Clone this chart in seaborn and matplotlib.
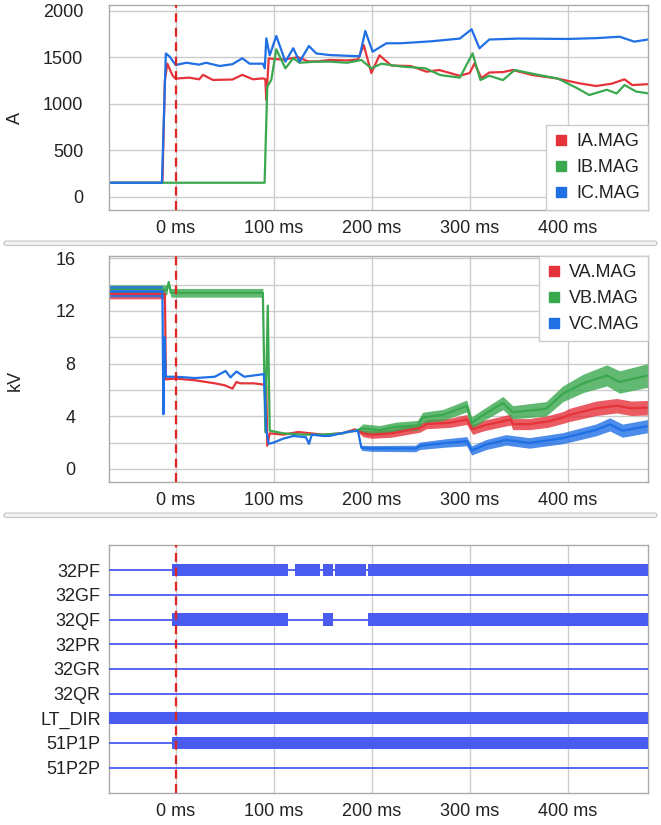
import matplotlib
matplotlib.use("Agg")
import matplotlib.pyplot as plt
import numpy as np
import seaborn as sns
from matplotlib.lines import Line2D
from matplotlib.patches import FancyBboxPatch

RED = "#e5333b"
GREEN = "#3aa84f"
BLUE = "#1f6fe5"
DIG = "#4a5cf0"
GRID = "#cccccc"

ms_ticks = [0, 100, 200, 300, 400]

# Currents (A)
ia_t = [-68, -13.5, -11, -8.5, -3, 0, 14, 24, 28, 38, 58, 68, 79, 89, 91.5, 92.5, 95, 100, 110, 125,
        135, 145, 157, 175, 186, 192, 199.7, 208, 220, 240, 256, 269, 290, 300, 305, 312, 320, 334,
        344, 364, 388, 412, 429, 445, 458, 466, 482]
ia_v = [150, 150, 1250, 1430, 1300, 1270, 1280, 1262, 1310, 1255, 1260, 1310, 1262, 1272, 1265, 1040,
        1488, 1480, 1475, 1500, 1455, 1455, 1470, 1465, 1475, 1630, 1330, 1520, 1410, 1405, 1344, 1362,
        1300, 1330, 1434, 1275, 1335, 1340, 1362, 1308, 1273, 1219, 1190, 1215, 1262, 1200, 1210]
ib_t = [-68, 90.8, 93.5, 97.6, 102.7, 112, 120, 126.5, 140, 157, 175, 189.5, 199.7, 210, 230, 255,
        270, 290, 303, 311, 320, 334, 346, 370, 390, 410, 422, 440, 450, 458, 470, 482]
ib_v = [150, 150, 1183, 1255, 1585, 1380, 1488, 1440, 1450, 1452, 1440, 1470, 1380, 1430, 1400, 1380,
        1308, 1280, 1541, 1254, 1300, 1254, 1362, 1310, 1270, 1165, 1093, 1150, 1110, 1201, 1130, 1111]
ic_t = [-68, -14, -10, -6, 0, 11, 24, 31, 45, 58, 68, 75.5, 89, 91, 92.5, 96, 102.7, 112, 120, 126.5,
        136, 143.5, 157, 175, 187.8, 193.5, 201, 215, 230, 260, 290, 302, 310, 320, 350, 400, 430, 453,
        468, 482]
ic_v = [150, 150, 1540, 1505, 1416, 1440, 1420, 1440, 1405, 1425, 1488, 1430, 1430, 1380, 1703, 1520,
        1728, 1452, 1596, 1452, 1620, 1540, 1523, 1515, 1510, 1782, 1559, 1649, 1650, 1670, 1700, 1800,
        1595, 1690, 1700, 1696, 1705, 1720, 1667, 1690]

# Voltages (kV): value and ripple half-width
va_t = [-68, -11, -10.5, -10, 0, 20, 40, 50, 58, 62, 66, 80, 90, 92.5, 93.5, 96, 110, 125, 150, 170,
        183, 191, 200, 220, 249, 256, 280, 297, 303, 315, 327, 342, 344, 361, 380, 395, 402, 429, 450,
        465, 482]
va_v = [13.3, 13.3, 10.6, 6.8, 6.86, 6.73, 6.5, 6.35, 6.1, 6.6, 6.5, 6.5, 6.4, 6.3, 1.75, 2.7, 2.6,
        2.8, 2.6, 2.7, 3.0, 2.7, 2.6, 2.7, 3.1, 3.4, 3.5, 3.75, 3.0, 3.3, 3.5, 3.75, 3.4, 3.4, 3.6, 3.9,
        4.1, 4.6, 4.8, 4.6, 4.65]
va_r = [0.38, 0.38, 0, 0, 0, 0, 0, 0, 0, 0, 0, 0, 0, 0, 0, 0, 0, 0, 0, 0, 0, 0.25, 0.28, 0.3, 0.32,
        0.35, 0.35, 0.38, 0.38, 0.4, 0.4, 0.42, 0.42, 0.42, 0.45, 0.45, 0.5, 0.55, 0.55, 0.55, 0.55]
vb_t = [-68, -9, -7, -5, 89, 91.5, 94, 96, 110, 130, 150, 170, 183, 191, 208, 225, 247, 252, 273, 297,
        302, 314, 334, 344, 378, 395, 416, 440, 453, 482]
vb_v = [13.6, 13.6, 14.2, 13.38, 13.38, 2.8, 12.4, 2.9, 2.7, 2.6, 2.6, 2.7, 2.9, 3.07, 2.94, 3.2, 3.3,
        3.9, 4.1, 4.78, 3.5, 4.1, 5.0, 4.3, 4.56, 5.7, 6.5, 7.1, 6.6, 7.1]
vb_r = [0.38, 0.38, 0, 0.33, 0.33, 0, 0, 0, 0, 0, 0, 0, 0, 0.35, 0.35, 0.35, 0.38, 0.4, 0.42, 0.45,
        0.45, 0.45, 0.5, 0.5, 0.55, 0.6, 0.7, 0.8, 0.85, 0.9]
vc_t = [-68, -13.5, -12.5, -11.5, -10, 0, 20, 40, 51, 56, 62, 70, 90, 92.5, 95, 100, 110, 120, 133,
        136, 139, 150, 157, 175, 186, 189.5, 200, 245, 249, 276, 297, 302, 317, 337, 361, 395, 429, 443,
        456, 482]
vc_v = [13.5, 13.5, 4.15, 10.0, 7.0, 7.0, 6.9, 7.0, 7.44, 6.95, 7.4, 7.0, 7.2, 2.9, 1.9, 2.0, 2.3, 2.5,
        2.4, 1.9, 2.6, 2.5, 2.5, 2.8, 2.9, 1.6, 1.55, 1.55, 1.75, 1.97, 2.1, 1.4, 1.85, 2.2, 1.97, 2.33,
        2.96, 3.38, 2.9, 3.25]
vc_r = [0.43, 0.43, 0, 0, 0, 0, 0, 0, 0, 0, 0, 0, 0, 0, 0, 0, 0, 0, 0, 0, 0, 0, 0, 0, 0, 0.2, 0.22,
        0.25, 0.28, 0.32, 0.35, 0.35, 0.38, 0.4, 0.4, 0.42, 0.45, 0.5, 0.5, 0.5]

# Digital elements: (start ms, end ms) of asserted intervals
signals = ["32PF", "32GF", "32QF", "32PR", "32GR", "32QR", "LT_DIR", "51P1P", "51P2P"]
on_intervals = {
    "32PF": [(-4, 114.6), (121.4, 147.7), (150, 160.2), (162.2, 194.6), (196, 482)],
    "32GF": [],
    "32QF": [(-4, 114.6), (150, 160.2), (196.3, 482)],
    "32PR": [],
    "32GR": [],
    "32QR": [],
    "LT_DIR": [(-68, 482)],
    "51P1P": [(-4, 482)],
    "51P2P": [],
}

sns.set_theme(style="white")
plt.rcParams["font.family"] = ["Liberation Sans", "DejaVu Sans"]
plt.rcParams["text.color"] = "#222222"

W, H = 661, 825
fig = plt.figure(figsize=(W / 100, H / 100), dpi=100)


def add_ax(top, bottom):
    return fig.add_axes([109 / W, 1 - bottom / H, (648 - 109) / W, (bottom - top) / H])


def style_time_axis(ax, ypad):
    ax.set_xlim(-68, 482)
    ax.set_xticks(ms_ticks)
    ax.set_xticklabels([f"{t} ms" for t in ms_ticks])
    ax.grid(axis="x", color=GRID, lw=1)
    ax.tick_params(axis="x", length=0, labelsize=13, pad=7, labelcolor="#222222")
    ax.tick_params(axis="y", length=0, labelsize=13, pad=ypad, labelcolor="#222222")
    for s in ax.spines.values():
        s.set_color("#aaaaaa")
        s.set_linewidth(1)
    ax.axvline(0, color="#e02424", lw=1.6, ls=(0, (4, 2.5)), zorder=6)
    ax.set_xlabel("")
    ax.set_ylabel("")


def legend(ax, labels, colors, loc):
    handles = [Line2D([], [], ls="", marker="s", ms=7, color=c, mec=c) for c in colors]
    leg = ax.legend(handles, labels, loc=loc, borderaxespad=0, frameon=True, fancybox=False,
                    fontsize=13, handlelength=0.7, handletextpad=0.5, labelspacing=0.5,
                    borderpad=0.45, framealpha=1)
    leg.get_frame().set_edgecolor("#cccccc")
    leg.get_frame().set_linewidth(1)
    leg.set_zorder(10)


# ---- currents ----
ax1 = add_ax(5, 210)
for t, v, c in [(ia_t, ia_v, RED), (ib_t, ib_v, GREEN), (ic_t, ic_v, BLUE)]:
    sns.lineplot(x=t, y=v, ax=ax1, color=c, lw=1.6, estimator=None, sort=False)
ax1.set_ylim(-143, 2061)
ax1.set_yticks([0, 500, 1000, 1500, 2000])
ax1.grid(axis="y", color=GRID, lw=1)
style_time_axis(ax1, 18.5)
legend(ax1, ["IA.MAG", "IB.MAG", "IC.MAG"], [RED, GREEN, BLUE], "lower right")

# ---- voltages ----
ax2 = add_ax(255.7, 482)
for t, v, r, c in [(va_t, va_v, va_r, RED), (vb_t, vb_v, vb_r, GREEN), (vc_t, vc_v, vc_r, BLUE)]:
    v = np.array(v)
    r = np.array(r)
    ax2.fill_between(t, v - r, v + r, color=c, alpha=0.8, lw=0)
    sns.lineplot(x=t, y=v, ax=ax2, color=c, lw=1.6, estimator=None, sort=False)
ax2.set_ylim(-1.0, 16.2)
ax2.set_yticks([0, 4, 8, 12, 16])
ax2.set_yticks([2, 6, 10, 14], minor=True)
ax2.grid(axis="y", which="both", color=GRID, lw=1)
style_time_axis(ax2, 24)
legend(ax2, ["VA.MAG", "VB.MAG", "VC.MAG"], [RED, GREEN, BLUE], "upper right")

# ---- digital elements ----
ax3 = add_ax(545, 793)
for i, name in enumerate(signals):
    ax3.axhline(i, color=DIG, lw=1.3, zorder=3)
    iv = on_intervals[name]
    if iv:
        ax3.broken_barh([(a, b - a) for a, b in iv], (i - 0.25, 0.5), color=DIG, lw=0, zorder=3)
ax3.set_ylim(9.03, -1.02)
ax3.set_yticks(range(len(signals)))
ax3.set_yticklabels(signals)
style_time_axis(ax3, 6)

fig.text(15 / W, 1 - 118 / H, "A", rotation=90, ha="center", va="center", fontsize=13)
fig.text(15 / W, 1 - 380 / H, "kV", rotation=90, ha="center", va="center", fontsize=13)

for y in (241, 513):
    fig.add_artist(FancyBboxPatch((4 / W, 1 - (y + 4.5) / H), 653 / W, 4.5 / H,
                                  boxstyle="round,pad=0,rounding_size=0.003",
                                  transform=fig.transFigure, facecolor="#f2f2f2",
                                  edgecolor="#c8c8c8", lw=0.8))

fig.savefig("out.png", dpi=100)
